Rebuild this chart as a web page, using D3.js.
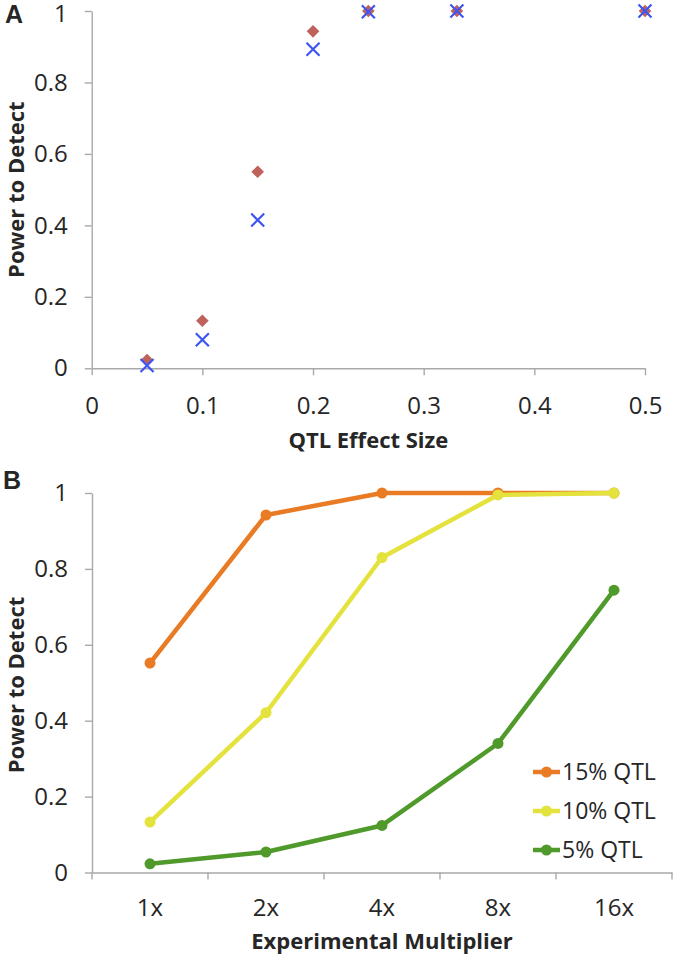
<!DOCTYPE html>
<html>
<head>
<meta charset="utf-8">
<script src="https://cdn.jsdelivr.net/npm/d3@7"></script>
<style>
  body { margin: 0; background: #fff; }
  svg text { font-family: "Open Sans", sans-serif; fill: #262626; }
  .axis path, .axis line { stroke: #a9a9a9; stroke-width: 1.4; }
  .axis text { font-size: 24px; }
  .title { font-weight: bold; font-size: 22px; }
  .panel-label { font-family: "Liberation Sans", Arial, sans-serif; font-weight: bold; font-size: 25px; }
</style>
</head>
<body>
<svg id="chart" width="677" height="958"></svg>
<script>
// Panel A data
const effectSizes = [0.05, 0.1, 0.15, 0.2, 0.25, 0.33, 0.5]
const powerDiamond = [0.023, 0.133, 0.55, 0.943, 1.0, 1.0, 1.0]
const powerCross = [0.008, 0.08, 0.415, 0.893, 0.998, 1.0, 1.0]
const xTicksA = [0, 0.1, 0.2, 0.3, 0.4, 0.5]
const yTicks = [0, 0.2, 0.4, 0.6, 0.8, 1]

// Panel B data
const multipliers = ['1x', '2x', '4x', '8x', '16x']
const seriesNames = ['15% QTL', '10% QTL', '5% QTL']
const qtl15 = [0.552, 0.942, 1.0, 1.0, 1.0]
const qtl10 = [0.133, 0.421, 0.83, 0.995, 1.0]
const qtl5 = [0.023, 0.054, 0.124, 0.34, 0.744]

const svg = d3.select('#chart')

// ---------- Panel A ----------
const xA = d3.scaleLinear().domain([0, 0.5]).range([91.7, 645])
const yA = d3.scaleLinear().domain([0, 1]).range([368.3, 11])

const gA = svg.append('g')

gA.append('g')
  .attr('class', 'axis')
  .attr('transform', `translate(0,${ yA(0) })`)
  .call(d3.axisBottom(xA).tickValues(xTicksA).tickFormat(d => String(d)).tickSize(7).tickSizeOuter(0))
  .selectAll('text').attr('y', 37).attr('dy', '0.35em')

const yAxisA = gA.append('g')
  .attr('class', 'axis')
  .attr('transform', `translate(${ xA(0) },0)`)
  .call(d3.axisLeft(yA).tickValues(yTicks).tickFormat(d => String(d)).tickSize(7).tickSizeOuter(0).tickPadding(17))

// top label sits a little low, as in the original (it hugs the top edge)
yAxisA.selectAll('.tick text').filter(d => d === 1).attr('y', 3)

gA.selectAll('.diamond')
  .data(effectSizes)
  .join('path')
  .attr('class', 'diamond')
  .attr('d', d3.symbol(d3.symbolSquare, 80))
  .attr('transform', (d, i) => `translate(${ xA(d) },${ yA(powerDiamond[i]) }) rotate(45)`)
  .attr('fill', '#c0625c')

gA.selectAll('.cross')
  .data(effectSizes)
  .join('path')
  .attr('class', 'cross')
  .attr('d', d3.symbol(d3.symbolX, 112))
  .attr('transform', (d, i) => `translate(${ xA(d) },${ yA(powerCross[i]) })`)
  .attr('fill', 'none')
  .attr('stroke', '#3d55f2')
  .attr('stroke-width', 2.2)

gA.append('text')
  .attr('class', 'title')
  .attr('x', (xA(0) + xA(0.5)) / 2)
  .attr('y', 440)
  .attr('dy', '0.35em')
  .attr('text-anchor', 'middle')
  .text('QTL Effect Size')

gA.append('text')
  .attr('class', 'title')
  .attr('transform', `translate(16,${ (yA(0) + yA(1)) / 2 }) rotate(-90)`)
  .attr('dy', '0.35em')
  .attr('text-anchor', 'middle')
  .text('Power to Detect')

gA.append('text')
  .attr('class', 'panel-label')
  .attr('x', 5)
  .attr('y', 23)
  .text('A')

// ---------- Panel B ----------
const xB = d3.scaleBand().domain(multipliers).range([92, 672])
const yB = d3.scaleLinear().domain([0, 1]).range([872.5, 493])
const colorB = d3.scaleOrdinal().domain(seriesNames).range(['#e97b25', '#e4e23c', '#4f9a2a'])
const seriesB = [qtl15, qtl10, qtl5]

const gB = svg.append('g')

const xAxisB = gB.append('g')
  .attr('class', 'axis')
  .attr('transform', `translate(0,${ yB(0) })`)
  .call(d3.axisBottom(xB).tickSize(0).tickSizeOuter(0))

xAxisB.selectAll('text').attr('y', 35.5).attr('dy', '0.35em')

// tick marks sit between categories
xAxisB.selectAll('.edge')
  .data(multipliers.concat(['end']))
  .join('line')
  .attr('class', 'edge')
  .attr('x1', (d, i) => i < multipliers.length ? xB(d) : xB.range()[1])
  .attr('x2', (d, i) => i < multipliers.length ? xB(d) : xB.range()[1])
  .attr('y1', 0)
  .attr('y2', 7)

gB.append('g')
  .attr('class', 'axis')
  .attr('transform', `translate(${ xB.range()[0] },0)`)
  .call(d3.axisLeft(yB).tickValues(yTicks).tickFormat(d => String(d)).tickSize(7).tickSizeOuter(0).tickPadding(17))

const line = d3.line()
  .x((d, i) => xB(multipliers[i]) + xB.bandwidth() / 2)
  .y(d => yB(d))

seriesB.forEach((vals, k) => {
  const c = colorB(seriesNames[k])
  gB.append('path')
    .datum(vals)
    .attr('d', line)
    .attr('fill', 'none')
    .attr('stroke', c)
    .attr('stroke-width', 4.5)
    .attr('stroke-linejoin', 'round')

  gB.selectAll('.dot-' + k)
    .data(vals)
    .join('circle')
    .attr('class', 'dot-' + k)
    .attr('cx', (d, i) => xB(multipliers[i]) + xB.bandwidth() / 2)
    .attr('cy', d => yB(d))
    .attr('r', 5.5)
    .attr('fill', c)
})

// legend
const legend = gB.append('g').attr('transform', 'translate(533,772)')
const rows = legend.selectAll('g')
  .data(seriesNames)
  .join('g')
  .attr('transform', (d, i) => `translate(0,${ i * 39 })`)

rows.append('line')
  .attr('x1', 0).attr('x2', 27)
  .attr('stroke', d => colorB(d))
  .attr('stroke-width', 4.5)

rows.append('circle')
  .attr('cx', 13.5)
  .attr('r', 5.5)
  .attr('fill', d => colorB(d))

rows.append('text')
  .attr('x', 29)
  .attr('dy', '0.35em')
  .style('font-size', '23px')
  .text(d => d)

gB.append('text')
  .attr('class', 'title')
  .attr('x', (xB.range()[0] + xB.range()[1]) / 2)
  .attr('y', 941)
  .attr('dy', '0.35em')
  .attr('text-anchor', 'middle')
  .text('Experimental Multiplier')

gB.append('text')
  .attr('class', 'title')
  .attr('transform', `translate(16,685) rotate(-90)`)
  .attr('dy', '0.35em')
  .attr('text-anchor', 'middle')
  .text('Power to Detect')

gB.append('text')
  .attr('class', 'panel-label')
  .attr('x', 3)
  .attr('y', 489)
  .text('B')
</script>
</body>
</html>
